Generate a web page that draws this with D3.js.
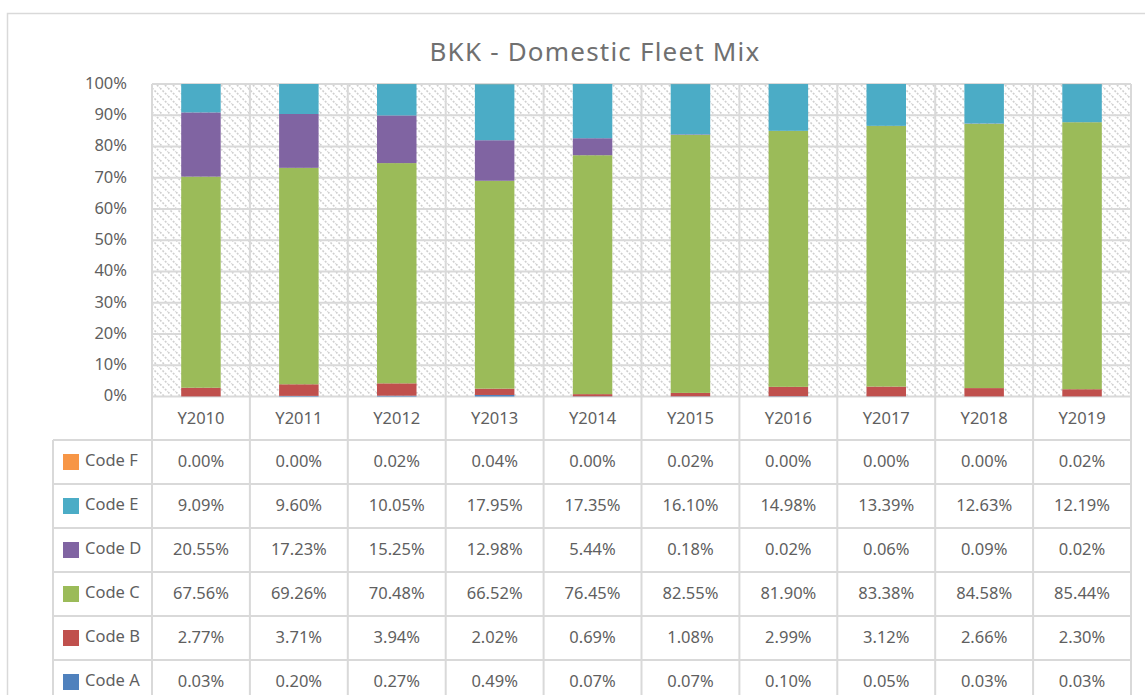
<!DOCTYPE html>
<html><head><meta charset="utf-8">
<script src="https://cdn.jsdelivr.net/npm/d3@7"></script>
<style>body{margin:0;background:#fff}svg{display:block;font-family:"Noto Sans",sans-serif}</style>
</head><body><svg id="c" width="1145" height="695"></svg>
<script>
const categories = ["Y2010","Y2011","Y2012","Y2013","Y2014","Y2015","Y2016","Y2017","Y2018","Y2019"];
const codeA = [0.03,0.20,0.27,0.49,0.07,0.07,0.10,0.05,0.03,0.03];
const codeB = [2.77,3.71,3.94,2.02,0.69,1.08,2.99,3.12,2.66,2.30];
const codeC = [67.56,69.26,70.48,66.52,76.45,82.55,81.90,83.38,84.58,85.44];
const codeD = [20.55,17.23,15.25,12.98,5.44,0.18,0.02,0.06,0.09,0.02];
const codeE = [9.09,9.60,10.05,17.95,17.35,16.10,14.98,13.39,12.63,12.19];
const codeF = [0.00,0.00,0.02,0.04,0.00,0.02,0.00,0.00,0.00,0.02];
const seriesNames = ["Code A","Code B","Code C","Code D","Code E","Code F"];
const seriesValues = [codeA,codeB,codeC,codeD,codeE,codeF];
const seriesColors = ["#4F81BD","#C0504D","#9BBB59","#8064A2","#4BACC6","#F79646"];
const yTicks = [0,10,20,30,40,50,60,70,80,90,100];

const svg = d3.select("#c");
const textCol = "#5f5f5f", gridCol = "#d9d9d9";
const L = 152, R = 1131, T = 84, B = 396.5;

// outer border
svg.append("rect").attr("x",7.5).attr("y",13.5).attr("width",1150).attr("height",700)
  .attr("fill","#fff").attr("stroke",gridCol).attr("stroke-width",1.5);

// pattern
const defs = svg.append("defs");
const pat = defs.append("pattern").attr("id","hatch").attr("patternUnits","userSpaceOnUse")
  .attr("width",8).attr("height",8);
pat.append("rect").attr("width",8).attr("height",8).attr("fill","#fff");
pat.append("path").attr("d","M0,0 L8,8 M-4,4 L4,12 M4,-4 L12,4")
  .attr("stroke","#cfcfcf").attr("stroke-width",1.6).attr("stroke-dasharray","2,1.5");

svg.append("text").attr("x",595).attr("y",61).attr("text-anchor","middle")
  .attr("font-size",26).attr("letter-spacing",1.2).attr("fill","#707070").text("BKK - Domestic Fleet Mix");

const x = d3.scaleBand().domain(categories).range([L,R]).paddingInner(0).paddingOuter(0);
const y = d3.scaleLinear().domain([0,100]).range([B,T]);

svg.append("rect").attr("x",L).attr("y",T).attr("width",R-L).attr("height",B-T).attr("fill","url(#hatch)");

// grid
svg.append("g").selectAll("line").data(yTicks).join("line")
  .attr("x1",L).attr("x2",R).attr("y1",d=>y(d)).attr("y2",d=>y(d))
  .attr("stroke",gridCol).attr("stroke-width",2);

// y axis labels
const yAxis = d3.axisLeft(y).tickValues(yTicks).tickFormat(d=>d+"%").tickSize(0).tickPadding(25);
const ya = svg.append("g").attr("transform",`translate(${L},-1)`).call(yAxis);
ya.select(".domain").remove();
ya.selectAll("text").attr("font-size",16.5).attr("fill",textCol).attr("font-family","Noto Sans");

// stacked bars
const rows = categories.map((c,i)=>{const o={cat:c}; seriesNames.forEach((s,j)=>o[s]=seriesValues[j][i]); return o;});
const stack = d3.stack().keys(seriesNames)(rows);
const bw = 39.5;
svg.append("g").selectAll("g").data(stack).join("g").attr("fill",(d,i)=>seriesColors[i])
  .selectAll("rect").data(d=>d).join("rect")
  .attr("x",d=>x(d.data.cat)+x.bandwidth()/2-bw/2).attr("width",bw)
  .attr("y",d=>y(d[1])).attr("height",d=>Math.max(0,y(d[0])-y(d[1])));

// table
const rowH = 44, tableTop = 440, labelL = 53;
const tableRows = seriesNames.slice().reverse();
const tableVals = seriesValues.slice().reverse();
const tableCols = seriesColors.slice().reverse();
const g = svg.append("g");
const xs = categories.map(c=>x(c)).concat([R]);
xs.forEach(xx=>g.append("line").attr("x1",xx).attr("x2",xx).attr("y1",T).attr("y2",700)
  .attr("stroke",gridCol).attr("stroke-width",2));
g.append("line").attr("x1",labelL).attr("x2",labelL).attr("y1",tableTop).attr("y2",700).attr("stroke",gridCol).attr("stroke-width",2);
for(let k=0;k<=tableRows.length;k++){
  g.append("line").attr("x1",labelL).attr("x2",R).attr("y1",tableTop+k*rowH).attr("y2",tableTop+k*rowH)
   .attr("stroke",gridCol).attr("stroke-width",2);
}
g.selectAll("text.cat").data(categories).join("text").attr("class","cat")
  .attr("x",d=>x(d)+x.bandwidth()/2).attr("y",424).attr("text-anchor","middle")
  .attr("font-size",16.5).attr("fill",textCol).text(d=>d);
tableRows.forEach((name,r)=>{
  const cy = tableTop + r*rowH + rowH/2;
  g.append("rect").attr("x",63).attr("y",cy-8).attr("width",16).attr("height",16).attr("fill",tableCols[r]);
  g.append("text").attr("x",85).attr("y",cy+4).attr("font-size",16.5).attr("fill",textCol).text(name);
  g.selectAll(null).data(tableVals[r]).join("text")
    .attr("x",(d,i)=>x(categories[i])+x.bandwidth()/2).attr("y",cy+5).attr("text-anchor","middle")
    .attr("font-size",16.5).attr("fill",textCol).text(d=>d.toFixed(2)+"%");
});
</script></body></html>
